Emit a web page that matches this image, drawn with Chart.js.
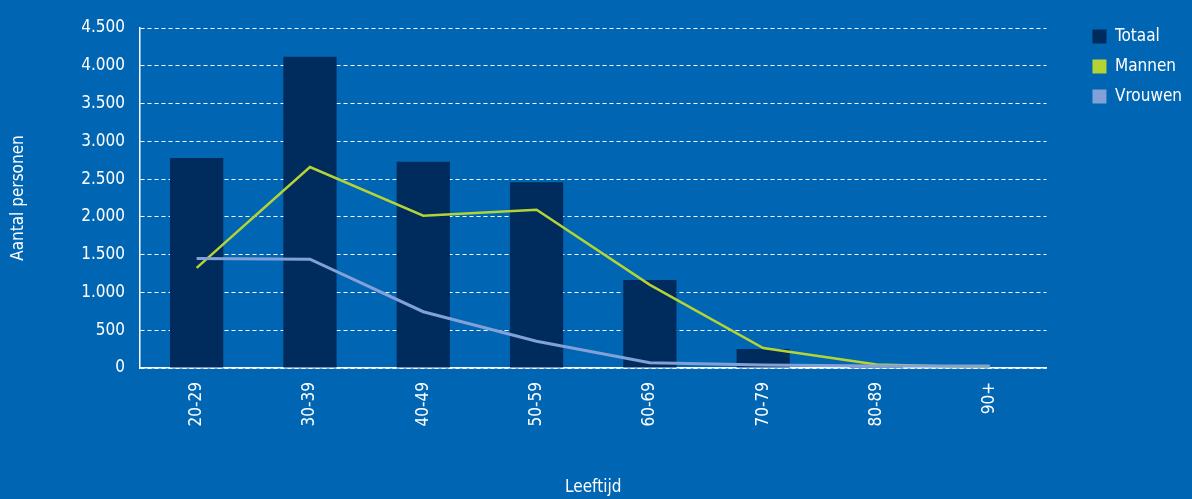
<!DOCTYPE html>
<html>
<head>
<meta charset="utf-8">
<script src="https://cdn.jsdelivr.net/npm/chart.js@4"></script>
<style>
  html, body { margin: 0; padding: 0; background: #0066b3; }
  canvas { display: block; }
</style>
</head>
<body>
<canvas id="canvas" width="1192" height="499"></canvas>
<script>
const ageGroups = ['20-29', '30-39', '40-49', '50-59', '60-69', '70-79', '80-89', '90+'];
const totaal = [2780, 4120, 2730, 2460, 1165, 250, 15, 5];
const mannen = [1325, 2660, 2015, 2095, 1100, 265, 45, 5];
const vrouwen = [1450, 1440, 745, 355, 70, 40, 25, 25];
const yTicks = [0, 500, 1000, 1500, 2000, 2500, 3000, 3500, 4000, 4500];

const font = "'Liberation Sans Narrow', 'DejaVu Sans Condensed', 'Roboto', sans-serif";
const barColor = '#002c5d';
const greenColor = '#b5d334';
const lightBlue = '#82a1d8';

const ctx = document.getElementById('canvas');

// thousands separator like "4.500"
function formatNl(v) {
  return String(v).replace(/\B(?=(\d{3})+(?!\d))/g, '.');
}

new Chart(ctx, {
  data: {
    labels: ageGroups,
    datasets: [
      {
        type: 'bar',
        label: 'Totaal',
        data: totaal,
        backgroundColor: barColor,
        barPercentage: 0.47,
        categoryPercentage: 1,
        order: 3
      },
      {
        type: 'line',
        label: 'Mannen',
        data: mannen,
        borderColor: greenColor,
        backgroundColor: greenColor,
        borderWidth: 2.5,
        pointRadius: 0,
        tension: 0,
        order: 2
      },
      {
        type: 'line',
        label: 'Vrouwen',
        data: vrouwen,
        borderColor: lightBlue,
        backgroundColor: lightBlue,
        borderWidth: 3,
        pointRadius: 0,
        tension: 0,
        order: 1
      }
    ]
  },
  options: {
    responsive: false,
    animation: false,
    layout: { padding: { top: 15, right: 0, bottom: 0, left: 0 } },
    scales: {
      x: {
        grid: { display: false },
        border: { display: true, color: '#ffffff', width: 1.5 },
        ticks: {
          color: '#ffffff',
          font: { family: font, size: 17 },
          maxRotation: 90,
          minRotation: 90,
          padding: 6
        },
        title: {
          display: true,
          text: 'Leeftijd',
          color: '#ffffff',
          font: { family: font, size: 17 },
          padding: { top: 0, bottom: 1 }
        },
        afterFit: scale => { scale.height = 131; }
      },
      // empty band above the plot so the legend can sit higher
      gapTop: {
        type: 'category',
        position: 'top',
        display: true,
        grid: { display: false },
        border: { display: false },
        ticks: { display: false },
        afterFit: scale => { scale.height = 13; }
      },
      y: {
        min: 0,
        max: 4500,
        afterBuildTicks: scale => { scale.ticks = yTicks.map(v => ({ value: v })); },
        grid: {
          color: '#ffffff',
          lineWidth: 1,
          drawTicks: false
        },
        border: { display: true, color: '#ffffff', width: 1.5, dash: [4, 3] },
        ticks: {
          color: '#ffffff',
          font: { family: font, size: 17 },
          padding: 15,
          callback: v => formatNl(v)
        },
        title: {
          display: true,
          text: 'Aantal personen',
          color: '#ffffff',
          font: { family: font, size: 17 },
          padding: { top: 8, bottom: 0 }
        },
        afterFit: scale => { scale.width = 140; }
      },
      gap: {
        type: 'linear',
        position: 'right',
        display: true,
        grid: { display: false },
        border: { display: false },
        ticks: { display: false },
        afterFit: scale => { scale.width = 33; }
      }
    },
    plugins: {
      legend: {
        position: 'right',
        align: 'start',
        labels: {
          color: '#ffffff',
          font: { family: font, size: 17 },
          boxWidth: 14,
          boxHeight: 14,
          padding: 13,
          generateLabels: chart => chart.data.datasets.map((ds, i) => ({
            text: ds.label,
            fillStyle: ds.type === 'bar' ? ds.backgroundColor : ds.borderColor,
            strokeStyle: 'transparent',
            lineWidth: 0,
            fontColor: '#ffffff',
            datasetIndex: i
          }))
        }
      },
      tooltip: { enabled: false }
    }
  }
});
</script>
</body>
</html>
